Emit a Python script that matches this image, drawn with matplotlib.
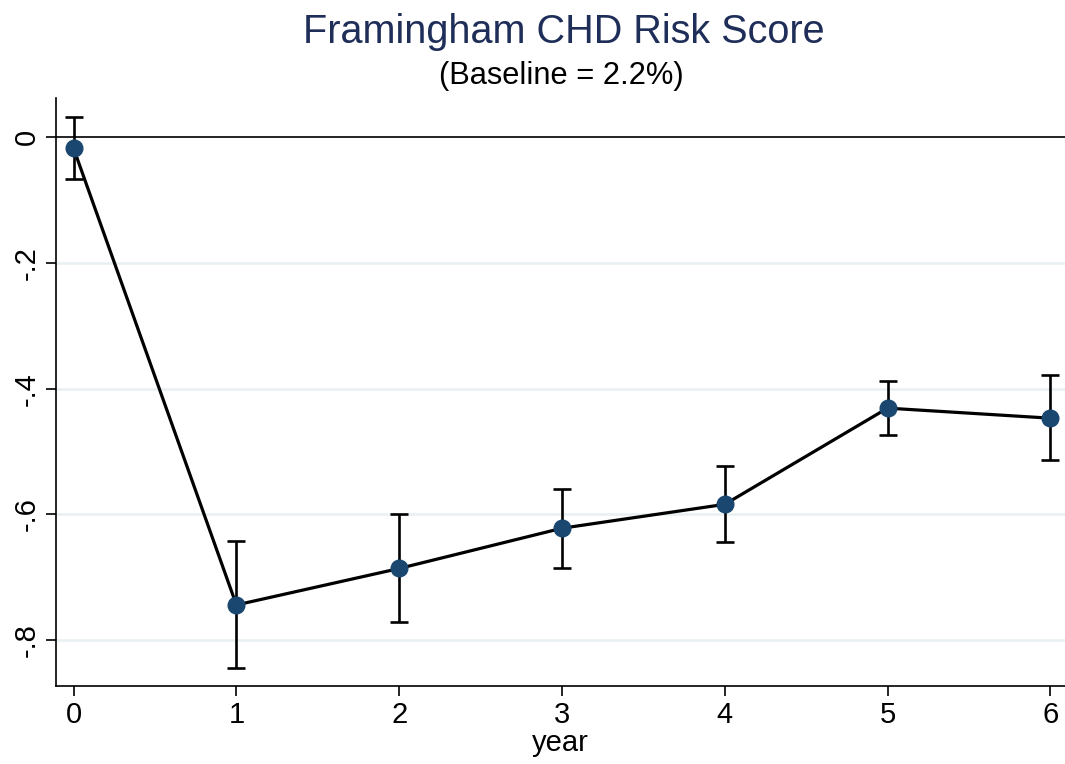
import numpy as np
import matplotlib.pyplot as plt

plt.rcParams['font.family'] = ['Liberation Sans', 'DejaVu Sans']

# change in risk score by year, with 95% CI
year = [0, 1, 2, 3, 4, 5, 6]
est = [-0.018, -0.744, -0.686, -0.622, -0.584, -0.431, -0.447]
ci_hi = [0.032, -0.642, -0.600, -0.559, -0.523, -0.388, -0.379]
ci_lo = [-0.067, -0.845, -0.771, -0.686, -0.644, -0.473, -0.514]
yticks = [0, -0.2, -0.4, -0.6, -0.8]
ylabels = ['0', '-.2', '-.4', '-.6', '-.8']

navy = '#1a476f'

fig = plt.figure(figsize=(10.65, 7.64), dpi=100)
ax = fig.add_axes([0.0523, 0.102, 0.9477, 0.770])

est = np.array(est)
err = [est - np.array(ci_lo), np.array(ci_hi) - est]

for v in yticks[1:]:
    ax.axhline(v, color='#e8f0f1', lw=1.8, zorder=0)
ax.axhline(0, color='black', lw=1.2, zorder=1)

ax.errorbar(year, est, yerr=err, fmt='none', ecolor='black', elinewidth=1.9,
            capsize=6.5, capthick=1.9, zorder=2)
ax.plot(year, est, color='black', lw=2.3, zorder=3)
ax.plot(year, est, 'o', color=navy, markersize=12, zorder=4)

ax.set_xlim(-0.11, 6.09)
ax.set_ylim(-0.873, 0.0625)
ax.set_xticks(year)
ax.set_yticks(yticks)
ax.set_yticklabels(ylabels, rotation=90, va='center')
ax.tick_params(labelsize=21, length=7, width=1.2, direction='out', pad=4)
ax.set_xlabel('year', fontsize=21, labelpad=0)

for s in ['top', 'right']:
    ax.spines[s].set_visible(False)
for s in ['left', 'bottom']:
    ax.spines[s].set_linewidth(1.2)

fig.text(0.529, 0.958, 'Framingham CHD Risk Score', ha='center', va='center',
         fontsize=28.5, color='#1e2e58')
fig.text(0.527, 0.901, '(Baseline = 2.2%)', ha='center', va='center',
         fontsize=22.2, color='black')

fig.savefig('out.png', dpi=100)
